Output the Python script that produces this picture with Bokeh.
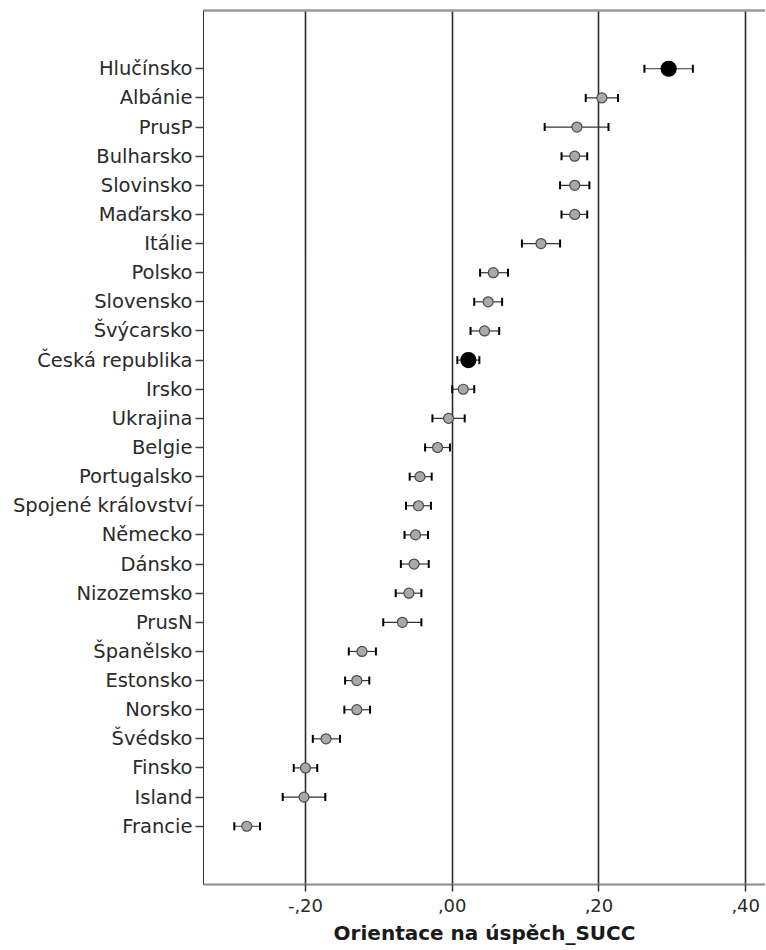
from bokeh.plotting import figure
from bokeh.models import (ColumnDataSource, FactorRange, Range1d, Whisker, TeeHead,
                          FixedTicker, LinearAxis)
from bokeh.embed import file_html
from bokeh.resources import INLINE

categories = ["Hlučínsko", "Albánie", "PrusP", "Bulharsko", "Slovinsko", "Maďarsko",
              "Itálie", "Polsko", "Slovensko", "Švýcarsko", "Česká republika", "Irsko",
              "Ukrajina", "Belgie", "Portugalsko", "Spojené království", "Německo",
              "Dánsko", "Nizozemsko", "PrusN", "Španělsko", "Estonsko", "Norsko",
              "Švédsko", "Finsko", "Island", "Francie"]
means = [0.295, 0.204, 0.170, 0.167, 0.167, 0.167,
         0.121, 0.056, 0.049, 0.044, 0.022, 0.015,
         -0.005, -0.020, -0.044, -0.046, -0.050,
         -0.052, -0.059, -0.068, -0.123, -0.130, -0.130,
         -0.172, -0.200, -0.202, -0.280]
lower = [0.262, 0.182, 0.126, 0.149, 0.147, 0.149,
         0.095, 0.038, 0.030, 0.025, 0.007, 0.000,
         -0.027, -0.037, -0.058, -0.063, -0.065,
         -0.070, -0.077, -0.094, -0.141, -0.146, -0.147,
         -0.190, -0.216, -0.231, -0.297]
upper = [0.328, 0.226, 0.213, 0.184, 0.187, 0.184,
         0.147, 0.076, 0.068, 0.064, 0.037, 0.030,
         0.017, -0.003, -0.028, -0.029, -0.033,
         -0.032, -0.042, -0.042, -0.104, -0.113, -0.112,
         -0.153, -0.184, -0.173, -0.262]
highlighted = ["Hlučínsko", "Česká republika"]

tick_values = [-0.2, 0.0, 0.2, 0.4]
tick_labels = ["-,20", ",00", ",20", ",40"]
x_title = "Orientace na úspěch_SUCC"

FONT = "DejaVu Sans"

is_hl = [c in highlighted for c in categories]
src = ColumnDataSource(dict(
    cat=categories, mean=means, lo=lower, hi=upper,
    fill=["#000000" if h else "#a9a9a9" for h in is_hl],
    line=["#000000" if h else "#4a4a4a" for h in is_hl],
    size=[15 if h else 10 for h in is_hl],
))

p = figure(width=765, height=950, output_backend="svg", toolbar_location=None,
           x_range=Range1d(-0.339, 0.427),
           y_range=FactorRange(factors=list(reversed(categories)),
                               range_padding=1.5, range_padding_units="absolute"),
           min_border_left=203, min_border_right=0, min_border_top=10,
           min_border_bottom=66)
p.outline_line_color = None
p.background_fill_color = "white"
p.border_fill_color = "white"

# grid
p.ygrid.grid_line_color = None
p.xgrid.ticker = FixedTicker(ticks=tick_values)
p.xgrid.grid_line_color = "#2b2b2b"
p.xgrid.grid_line_width = 1.6

# bottom axis
xa = p.xaxis[0]
xa.ticker = FixedTicker(ticks=tick_values)
xa.major_label_overrides = {v: l for v, l in zip(tick_values, tick_labels)}
xa.minor_tick_line_color = None
xa.major_tick_out = 7
xa.major_tick_in = 0
xa.major_tick_line_color = "#333333"
xa.major_tick_line_width = 1.5
xa.axis_line_color = "#8a8a8a"
xa.axis_line_width = 2
xa.major_label_text_font = FONT
xa.major_label_text_font_size = "18px"
xa.major_label_text_color = "#2a2a2a"
xa.major_label_standoff = 7
xa.axis_label = x_title
xa.axis_label_text_font = FONT
xa.axis_label_text_font_style = "bold"
xa.axis_label_text_font_size = "20px"
xa.axis_label_text_color = "#1a1a1a"
xa.axis_label_standoff = 6

# left axis
ya = p.yaxis[0]
ya.major_tick_out = 8
ya.major_tick_in = 0
ya.major_tick_line_color = "#444444"
ya.major_tick_line_width = 1.5
ya.axis_line_color = "#333333"
ya.axis_line_width = 1
ya.major_label_text_font = FONT
ya.major_label_text_font_size = "19.5px"
ya.major_label_text_color = "#2a2a2a"
ya.major_label_standoff = 3

# top border line
top = LinearAxis(ticker=FixedTicker(ticks=[]), major_tick_out=0, major_tick_in=0,
                 minor_tick_out=0, minor_tick_in=0, major_label_standoff=0,
                 axis_line_color="#9a9a9a", axis_line_width=2.5)
p.add_layout(top, "above")

# error bars
w = Whisker(base="cat", lower="lo", upper="hi", dimension="width", source=src,
            line_color="#333333", line_width=1.2,
            lower_head=TeeHead(size=8, line_color="#000000", line_width=2),
            upper_head=TeeHead(size=8, line_color="#000000", line_width=2))
p.add_layout(w)

p.scatter(x="mean", y="cat", source=src, size="size", fill_color="fill",
          line_color="line", line_width=1.2)

open("out.html", "w").write(file_html(p, INLINE))
